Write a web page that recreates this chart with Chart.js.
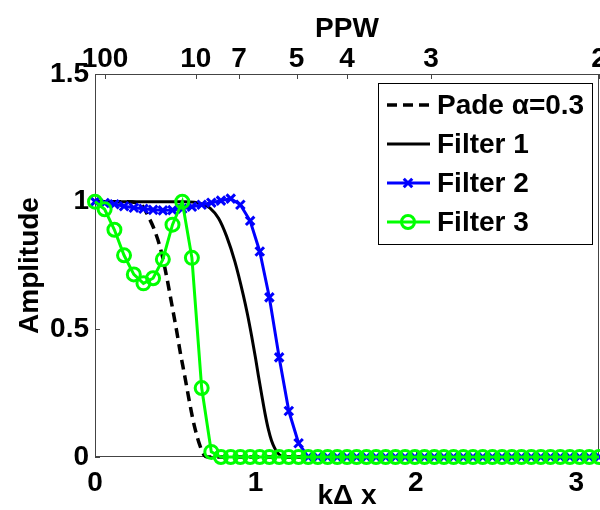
<!DOCTYPE html>
<html>
<head>
<meta charset="utf-8">
<script src="https://cdn.jsdelivr.net/npm/chart.js@4/dist/chart.umd.min.js"></script>
<style>
  body { margin: 0; background: #fff; }
  #wrap { width: 600px; height: 510px; }
</style>
</head>
<body>
<div id="wrap"><canvas id="chart" width="600" height="510"></canvas></div>
<script>
const FONT = '"Liberation Sans", Arial, Helvetica, sans-serif';

// sampling grid in k*dx (shared by Filter 2 and Filter 3)
const kdx = [0, 0.060, 0.121, 0.181, 0.242, 0.302, 0.362, 0.423, 0.483, 0.544, 0.604, 0.665, 0.725,
  0.785, 0.846, 0.906, 0.967, 1.027, 1.087, 1.148, 1.208, 1.269, 1.329, 1.389, 1.450, 1.510, 1.571,
  1.631, 1.692, 1.752, 1.812, 1.873, 1.933, 1.994, 2.054, 2.115, 2.175, 2.235, 2.296, 2.356, 2.417,
  2.477, 2.537, 2.598, 2.658, 2.719, 2.779, 2.839, 2.900, 2.960, 3.021, 3.081, 3.142];

const filter2Amp = [1.0, 0.995, 0.99, 0.982, 0.976, 0.972, 0.968, 0.966, 0.967, 0.972, 0.98, 0.988, 0.996,
  1.004, 1.012, 0.988, 0.925, 0.805, 0.625, 0.39, 0.18, 0.054, 0, 0, 0, 0, 0,
  0, 0, 0, 0, 0, 0, 0, 0, 0, 0, 0, 0, 0, 0,
  0, 0, 0, 0, 0, 0, 0, 0, 0, 0, 0, 0];

const filter3Amp = [1.0, 0.97, 0.89, 0.79, 0.715, 0.68, 0.70, 0.774, 0.91, 1.0, 0.78, 0.27, 0.02,
  0, 0, 0, 0, 0, 0, 0, 0, 0, 0, 0, 0, 0, 0,
  0, 0, 0, 0, 0, 0, 0, 0, 0, 0, 0, 0, 0, 0,
  0, 0, 0, 0, 0, 0, 0, 0, 0, 0, 0, 0];

const padeX = [0, 0.2, 0.26, 0.30, 0.33, 0.37, 0.415, 0.45, 0.478, 0.51, 0.53, 0.56, 0.592, 0.62, 0.654, 0.68, 0.70, 3.142];
const padeAmp = [1, 1, 0.995, 0.98, 0.945, 0.89, 0.80, 0.695, 0.60, 0.49, 0.415, 0.315, 0.205, 0.12, 0.045, 0.008, 0, 0];

const filter1X = [0, 0.55, 0.62, 0.67, 0.717, 0.77, 0.82, 0.872, 0.924, 0.95, 0.976, 1.0, 1.018, 1.04, 1.06, 1.08, 1.10, 1.12, 1.14, 1.16, 1.2, 3.142];
const filter1Amp = [1, 1, 0.998, 0.99, 0.975, 0.935, 0.865, 0.765, 0.635, 0.56, 0.475, 0.39, 0.32, 0.24, 0.17, 0.11, 0.065, 0.035, 0.015, 0.004, 0, 0];

const xTicks = [0, 1, 2, 3];
const yTicks = [0, 0.5, 1, 1.5];
const ppwTicks = [100, 10, 7, 5, 4, 3, 2];

const pts = (xs, ys) => xs.map((x, i) => ({ x: x, y: ys[i] }));

// box round the axes and little inward tick marks, matlab style
const axisBox = {
  id: 'axisBox',
  beforeDatasetsDraw(chart) {
    const { ctx, chartArea: a, scales } = chart;
    ctx.save();
    ctx.strokeStyle = '#444';
    ctx.lineWidth = 1;
    ctx.strokeRect(a.left + 0.5, a.top + 0.5, a.right - a.left - 1, a.bottom - a.top - 1);
    ctx.beginPath();
    scales.y.ticks.forEach(t => {
      const p = Math.round(scales.y.getPixelForValue(t.value)) + 0.5;
      ctx.moveTo(a.left, p); ctx.lineTo(a.left + 5, p);
    });
    scales.x.ticks.forEach(t => {
      const p = Math.round(scales.x.getPixelForValue(t.value)) + 0.5;
      ctx.moveTo(p, a.bottom); ctx.lineTo(p, a.bottom - 5);
    });
    scales.xTop.ticks.forEach(t => {
      const p = Math.round(scales.xTop.getPixelForValue(t.value)) + 0.5;
      ctx.moveTo(p, a.top); ctx.lineTo(p, a.top + 5);
    });
    ctx.stroke();
    ctx.restore();
  }
};

const boxLegend = {
  id: 'boxLegend',
  afterDatasetsDraw(chart) {
    const { ctx, chartArea: a } = chart;
    const left = a.right - 221, top = a.top + 9, w = 214, h = 161;
    ctx.save();
    ctx.fillStyle = '#fff';
    ctx.fillRect(left, top, w, h);
    ctx.strokeStyle = '#000';
    ctx.lineWidth = 1;
    ctx.strokeRect(left + 0.5, top + 0.5, w, h);
    ctx.font = 'bold 28px ' + FONT;
    ctx.textBaseline = 'middle';
    chart.data.datasets.forEach((ds, i) => {
      const y = top + 22 + i * 39;
      ctx.strokeStyle = ds.borderColor;
      ctx.lineWidth = ds.borderWidth;
      ctx.setLineDash(ds.borderDash || []);
      ctx.beginPath();
      ctx.moveTo(left + 9, y);
      ctx.lineTo(left + 52, y);
      ctx.stroke();
      ctx.setLineDash([]);
      if (ds.pointRadius > 0) {
        ctx.fillStyle = 'rgba(0,0,0,0)';
        ctx.lineWidth = ds.pointBorderWidth;
        Chart.helpers.drawPoint(ctx, { pointStyle: ds.pointStyle, radius: ds.pointRadius, borderWidth: ds.pointBorderWidth, rotation: 0 }, left + 30, y);
      }
      ctx.fillStyle = '#000';
      ctx.fillText(ds.label, left + 59, y + 1);
    });
    ctx.restore();
  }
};

const tickFont = { family: FONT, size: 28, weight: 'bold' };
const titleFont = { family: FONT, size: 28, weight: 'bold', lineHeight: 1 };

new Chart(document.getElementById('chart'), {
  type: 'line',
  data: {
    datasets: [
      {
        label: 'Pade \u03b1=0.3',
        data: pts(padeX, padeAmp),
        borderColor: '#000',
        borderWidth: 3.5,
        borderDash: [10, 6],
        pointRadius: 0,
        cubicInterpolationMode: 'monotone',
        order: 3
      },
      {
        label: 'Filter 1',
        data: pts(filter1X, filter1Amp),
        borderColor: '#000',
        borderWidth: 3,
        pointRadius: 0,
        cubicInterpolationMode: 'monotone',
        order: 2
      },
      {
        label: 'Filter 2',
        data: pts(kdx, filter2Amp),
        borderColor: '#0000ff',
        backgroundColor: '#0000ff',
        borderWidth: 3,
        pointStyle: 'crossRot',
        pointRadius: 6,
        pointBorderWidth: 3,
        pointBorderColor: '#0000ff',
        order: 1
      },
      {
        label: 'Filter 3',
        data: pts(kdx, filter3Amp),
        borderColor: '#00ff00',
        borderWidth: 3,
        pointStyle: 'circle',
        pointRadius: 6.5,
        pointBorderWidth: 3,
        pointBorderColor: '#00ff00',
        pointBackgroundColor: 'rgba(0,0,0,0)',
        order: 0
      }
    ]
  },
  options: {
    responsive: false,
    animation: false,
    clip: { left: 10, top: 10, right: 10, bottom: 12 },
    layout: { autoPadding: false, padding: { right: 1 } },
    plugins: {
      legend: { display: false },
      tooltip: { enabled: false }
    },
    scales: {
      x: {
        type: 'linear',
        position: 'bottom',
        min: 0,
        max: Math.PI,
        afterBuildTicks: s => { s.ticks = xTicks.map(v => ({ value: v })); },
        ticks: { color: '#000', font: tickFont, padding: 9, maxRotation: 0, autoSkip: false, callback: v => String(v) },
        grid: { display: false, drawTicks: false },
        border: { display: false },
        title: { display: true, text: 'k\u0394 x', color: '#000', font: titleFont, padding: { top: 0, bottom: 0 } },
        afterFit: s => { s.height = 53; s.paddingLeft = 0; s.paddingRight = 0; }
      },
      xTop: {
        type: 'linear',
        position: 'top',
        min: 0,
        max: Math.PI,
        afterBuildTicks: s => { s.ticks = ppwTicks.map(p => ({ value: 2 * Math.PI / p })); },
        ticks: {
          color: '#000', font: tickFont, padding: -2, maxRotation: 0, autoSkip: false,
          callback: (v, i) => String(ppwTicks[i])
        },
        grid: { display: false, drawTicks: false },
        border: { display: false },
        title: { display: true, text: 'PPW', color: '#000', font: titleFont, padding: { top: 15, bottom: 0 } },
        afterFit: s => { s.height = 74; s.paddingLeft = 0; s.paddingRight = 0; }
      },
      y: {
        min: 0,
        max: 1.5,
        afterBuildTicks: s => { s.ticks = yTicks.map(v => ({ value: v })); },
        ticks: { color: '#000', font: tickFont, padding: 6, callback: v => String(v) },
        grid: { display: false, drawTicks: false },
        border: { display: false },
        title: { display: true, text: 'Amplitude', color: '#000', font: titleFont, padding: { top: 16, bottom: 0 } },
        afterFit: s => { s.width = 95; s.paddingTop = 0; s.paddingBottom = 0; }
      }
    }
  },
  plugins: [axisBox, boxLegend]
});
</script>
</body>
</html>
